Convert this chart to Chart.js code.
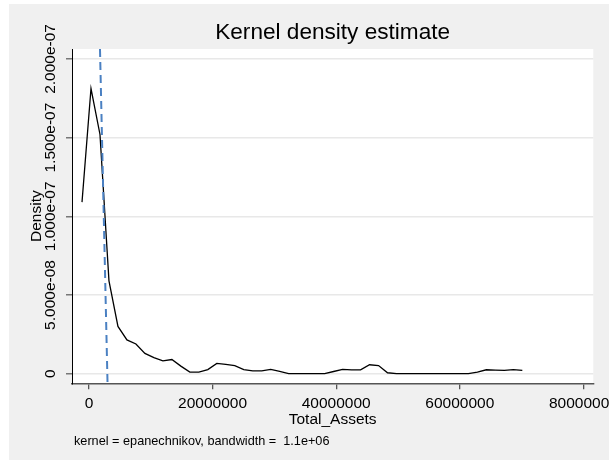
<!DOCTYPE html>
<html>
<head>
<meta charset="utf-8">
<script src="https://cdn.jsdelivr.net/npm/chart.js@4.4.1/dist/chart.umd.min.js"></script>
<style>
  html, body { margin: 0; padding: 0; background: #fff; }
  canvas { display: block; }
</style>
</head>
<body>
<canvas id="grafico" width="609" height="461"></canvas>
<script>
// valores (estimativa de densidade, 50 pontos)
const assets = [
  -1130000, 324000, 1778000, 3232000, 4686000, 6140000, 7594000, 9048000, 10502000, 11956000,
  13410000, 14864000, 16318000, 17772000, 19226000, 20680000, 22134000, 23588000, 25042000, 26496000,
  27950000, 29404000, 30858000, 32312000, 33766000, 35220000, 36674000, 38128000, 39582000, 41036000,
  42490000, 43944000, 45398000, 46852000, 48306000, 49760000, 51214000, 52668000, 54122000, 55576000,
  57030000, 58484000, 59938000, 61392000, 62846000, 64300000, 65754000, 67208000, 68662000, 70116000
]
const density = [
  1.09e-7, 1.812e-7, 1.52e-7, 5.9e-8, 3.0e-8, 2.15e-8, 1.89e-8, 1.29e-8, 1.02e-8, 8.1e-9,
  9.0e-9, 4.8e-9, 1.0e-9, 1.0e-9, 2.6e-9, 6.5e-9, 5.9e-9, 5.1e-9, 2.6e-9, 1.8e-9,
  1.8e-9, 2.7e-9, 1.5e-9, 0, 0, 0, 0, 0, 1.4e-9, 2.8e-9,
  2.4e-9, 2.4e-9, 5.7e-9, 5.2e-9, 6e-10, 0, 0, 0, 0, 0,
  0, 0, 0, 0, 1.0e-9, 2.5e-9, 2.3e-9, 2.1e-9, 2.6e-9, 2.1e-9
]
// linha tracejada (media)
const meanX = [1780000, 3000000]
const meanY = [2.063e-7, -6.1e-9]

const xTicks = [0, 20000000, 40000000, 60000000, 80000000]
const yTicks = [0, 5e-8, 1e-7, 1.5e-7, 2e-7]

const titulo = 'Kernel density estimate'
const nota = 'kernel = epanechnikov, bandwidth =  1.1e+06'
const fonte = '"Liberation Sans", Arial, sans-serif'

const fmtY = (v) => {
  if (v === 0) return '0'
  return v.toExponential(3).replace(/e([+-])(\d)$/, 'e$10$2')
}

const fundo = {
  id: 'fundo',
  beforeDraw(chart) {
    const c = chart.ctx
    const a = chart.chartArea
    c.save()
    c.fillStyle = '#ffffff'
    c.fillRect(0, 0, chart.width, chart.height)
    c.fillStyle = '#f0f0f0'
    c.fillRect(9, 4, 600, 456)
    c.fillStyle = '#ffffff'
    c.fillRect(a.left, a.top, a.right - a.left, a.bottom - a.top)
    c.restore()
  },
  afterDraw(chart) {
    const c = chart.ctx
    const a = chart.chartArea
    c.save()
    c.fillStyle = '#000'
    c.textBaseline = 'middle'
    c.textAlign = 'center'
    c.font = '22.6px ' + fonte
    c.fillText(titulo, (a.left + a.right) / 2, 33)
    c.textAlign = 'left'
    c.font = '12.7px ' + fonte
    c.fillText(nota, 74, 441)
    c.restore()
  }
}

const ctx = document.getElementById('grafico')

new Chart(ctx, {
  type: 'scatter',
  data: {
    datasets: [
      {
        data: meanX.map((x, i) => ({ x: x, y: meanY[i] })),
        showLine: true,
        borderColor: '#4a80c2',
        borderWidth: 2,
        borderDash: [8, 5],
        pointRadius: 0
      },
      {
        data: assets.map((x, i) => ({ x: x, y: density[i] })),
        showLine: true,
        borderColor: '#000000',
        borderWidth: 1.3,
        pointRadius: 0,
        tension: 0
      }
    ]
  },
  options: {
    responsive: false,
    animation: false,
    layout: { padding: { top: 49, right: 15.7, bottom: 27.7, left: 0 } },
    plugins: {
      legend: { display: false },
      tooltip: { enabled: false },
      title: { display: false }
    },
    scales: {
      x: {
        type: 'linear',
        min: -2750000,
        max: 81600000,
        afterBuildTicks: (s) => { s.ticks = xTicks.map(v => ({ value: v })) },
        afterFit: (s) => { s.height = 50; s.paddingLeft = 0; s.paddingRight = 0 },
        ticks: {
          autoSkip: false,
          minRotation: 0,
          maxRotation: 0,
          padding: 5,
          color: '#000',
          font: { family: fonte, size: 15.5 },
          callback: (v) => String(v)
        },
        grid: { drawOnChartArea: false, tickColor: '#555', tickLength: 6, lineWidth: 1.3 },
        border: { color: '#555', width: 1.5 },
        title: {
          display: true,
          text: 'Total_Assets',
          color: '#000',
          font: { family: fonte, size: 15.5 },
          padding: { top: 0, bottom: 4 }
        }
      },
      y: {
        type: 'linear',
        min: -6.1e-9,
        max: 2.063e-7,
        afterBuildTicks: (s) => { s.ticks = yTicks.map(v => ({ value: v })) },
        afterFit: (s) => { s.width = 72; s.paddingTop = 0; s.paddingBottom = 0 },
        ticks: {
          minRotation: 90,
          maxRotation: 90,
          crossAlign: 'center',
          padding: -19.4,
          color: '#000',
          font: { family: fonte, size: 15.5 },
          callback: fmtY
        },
        grid: { color: '#e8e8e8', lineWidth: 1.5, tickColor: '#777', tickLength: 6 },
        border: { color: '#000', width: 1 },
        title: {
          display: true,
          text: 'Density',
          color: '#000',
          font: { family: fonte, size: 15.5 },
          padding: { top: 27.5, bottom: 0 }
        }
      }
    }
  },
  plugins: [fundo]
})
</script>
</body>
</html>
